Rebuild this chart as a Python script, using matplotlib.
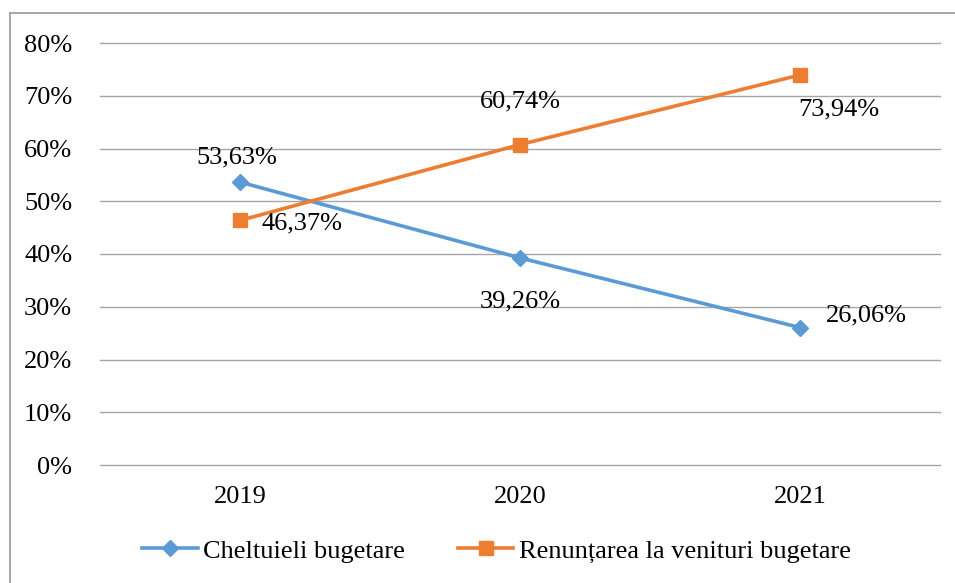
import matplotlib.pyplot as plt
from matplotlib.lines import Line2D

plt.rcParams['font.family'] = ['Liberation Serif', 'DejaVu Serif']

ani = ['2019', '2020', '2021']
cheltuieli = [53.63, 39.26, 26.06]
renuntarea = [46.37, 60.74, 73.94]
etichete_ch = ['53,63%', '39,26%', '26,06%']
etichete_re = ['46,37%', '60,74%', '73,94%']

W, H = 955, 583
fig = plt.figure(figsize=(W / 100, H / 100), dpi=100)
ax = fig.add_axes([100 / W, 1 - 465 / H, 840 / W, (465 - 43) / H])

x = range(len(ani))
ax.plot(x, cheltuieli, color='#5B9BD5', lw=2.6, marker='D', ms=8.5,
        label='Cheltuieli bugetare', zorder=3)
ax.plot(x, renuntarea, color='#ED7D31', lw=2.6, marker='s', ms=9.5,
        label='Renunțarea la venituri bugetare', zorder=3)

# etichete de date
off_ch = [(-2, 18), (0, -31), (48, 9)]
off_re = [(45, -2), (0, 31), (28, -25)]
for i in x:
    ax.annotate(etichete_ch[i], (i, cheltuieli[i]), textcoords='offset points',
                xytext=off_ch[i], ha='center', va='center', fontsize=19)
    ax.annotate(etichete_re[i], (i, renuntarea[i]), textcoords='offset points',
                xytext=off_re[i], ha='center', va='center', fontsize=19)

ax.set_xlim(-0.5, 2.5)
ax.set_ylim(0, 80)
ax.set_xticks(list(x))
ax.set_xticklabels(ani)
ax.set_yticks(range(0, 81, 10))
ax.set_yticklabels([f'{v}%' for v in range(0, 81, 10)])
ax.tick_params(length=0, labelsize=19)
ax.tick_params(axis='y', pad=20)
ax.tick_params(axis='x', pad=15)
ax.grid(axis='y', color='#A6A6A6', lw=1)
for gl in ax.get_ygridlines():
    gl.set_clip_on(False)
ax.set_axisbelow(True)
for s in ax.spines.values():
    s.set_visible(False)

fig.legend(loc='center', bbox_to_anchor=(0.5 + 19 / W, 1 - 551 / H), ncol=2,
           frameon=False, fontsize=19, handlelength=2.1, columnspacing=2.0,
           handletextpad=0.2)

# chenarul graficului
fig.add_artist(Line2D([10 / W, 10 / W], [0, 1 - 13 / H], color='#A0A0A0', lw=1.3,
                      transform=fig.transFigure))
fig.add_artist(Line2D([10 / W, 1], [1 - 13 / H, 1 - 13 / H], color='#A0A0A0', lw=1.3,
                      transform=fig.transFigure))

fig.savefig('out.png', dpi=100)
